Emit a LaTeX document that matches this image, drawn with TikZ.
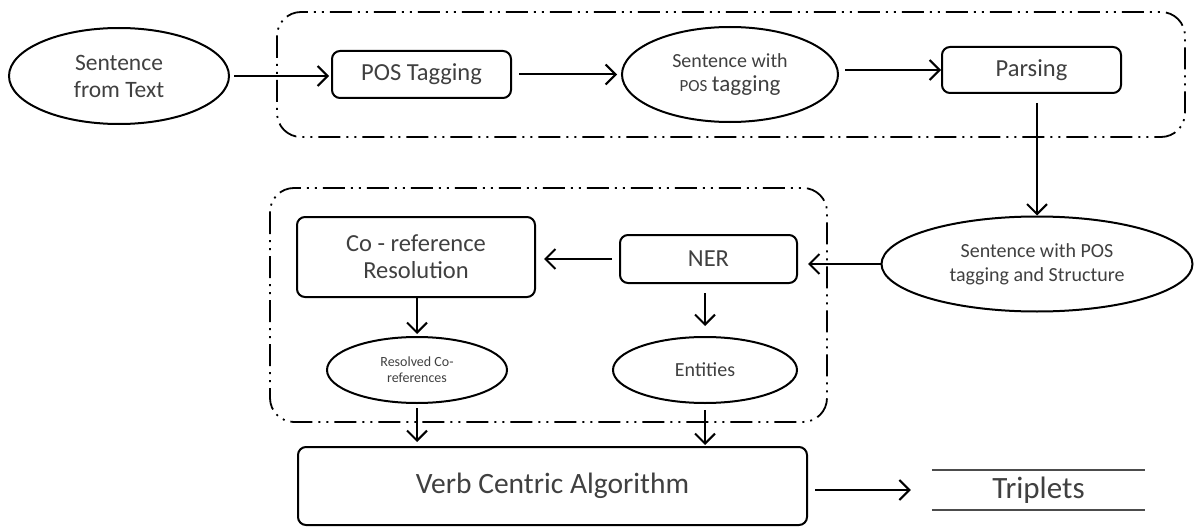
\documentclass[tikz,border=0pt]{standalone}
\usepackage{fontspec}
\setmainfont{Carlito}
\usetikzlibrary{shapes.geometric,arrows.meta}
\begin{document}
\begin{tikzpicture}[x=1pt,y=-1pt,
  every node/.style={text=black!75, align=center, inner sep=0pt},
  box/.style={draw=black, line width=2pt, rounded corners=8pt, rectangle},
  oval/.style={draw=black, line width=2pt, ellipse},
  group/.style={draw=black, line width=1.8pt, rounded corners=24pt,
    dash pattern=on 22pt off 6pt on 2pt off 6pt on 2pt off 6pt},
  flow/.style={draw=black, line width=2pt, -{Straight Barb[length=10pt,width=20pt,line width=2pt]}},
  rule/.style={draw=black!70, line width=1.5pt}]
\useasboundingbox (0,0) rectangle (1195,527);
% groups
\draw[group] (277,12) rectangle (1185,137);
\draw[group] (270,188) rectangle (827,422);
% nodes
\node[oval, minimum width=220pt, minimum height=96pt, font=\fontsize{23.5}{27}\selectfont] (E1) at (119,76) {Sentence\\from Text};
\node[box, minimum width=179pt, minimum height=47pt, font=\fontsize{24.5}{28}\selectfont] (POS) at (421.5,74.5) {POS Tagging};
\node[oval, minimum width=216pt, minimum height=95pt, font=\fontsize{20}{24}\selectfont] (E2) at (730,74.5) {Sentence with\\{\fontsize{17}{20}\selectfont POS} {\fontsize{23}{24}\selectfont tagging}};
\node[box, minimum width=179pt, minimum height=46pt, font=\fontsize{24.5}{28}\selectfont] (Parse) at (1031.5,70) {Parsing};
\node[oval, minimum width=311pt, minimum height=95pt, font=\fontsize{20}{24}\selectfont] (E3) at (1037,264) {Sentence with POS\\tagging and Structure};
\node[box, minimum width=177pt, minimum height=48pt, font=\fontsize{24.5}{28}\selectfont] (NER) at (708.5,259) {NER};
\node[box, minimum width=238pt, minimum height=80pt, font=\fontsize{24.5}{27}\selectfont] (Coref) at (416,257) {Co - reference\\Resolution};
\node[oval, minimum width=180pt, minimum height=66pt, font=\fontsize{14}{16}\selectfont] (Res) at (417,370) {Resolved Co-\\references};
\node[oval, minimum width=184pt, minimum height=66pt, font=\fontsize{20}{24}\selectfont] (Ent) at (705,370) {Entities};
\node[box, minimum width=509pt, minimum height=78pt, font=\fontsize{29.5}{33}\selectfont] (Verb) at (552.5,486) {Verb Centric Algorithm};
\node[minimum width=213pt, minimum height=40pt, font=\fontsize{31}{34}\selectfont] (Trip) at (1038.5,490) {Triplets};
\draw[rule] (Trip.north west) -- (Trip.north east);
\draw[rule] (Trip.south west) -- (Trip.south east);
% connectors
\draw[flow, shorten <=4pt, shorten >=2pt] (E1.east) -- (E1.east -| POS.west);
\draw[flow, shorten <=7pt, shorten >=4pt] (POS.east) -- (POS.east -| E2.west);
\draw[flow, shorten <=6pt] (E2.east |- Parse.west) -- (Parse.west);
\draw[flow, shorten <=9pt] (E3.north |- Parse.south) -- (E3.north);
\draw[flow, shorten >=10pt] (E3.west) -- (E3.west -| NER.east);
\draw[flow, shorten <=7pt, shorten >=8pt] (NER.west) -- (NER.west -| Coref.east);
\draw[flow, shorten >=2pt] (Coref.south -| Res.north) -- (Res.north);
\draw[flow, shorten <=9pt, shorten >=10pt] (NER.south -| Ent.north) -- (Ent.north);
\draw[flow, shorten <=4pt, shorten >=4pt] (Res.south) -- (Res.south |- Verb.north);
\draw[flow, shorten <=6pt, shorten >=1pt] (Ent.south) -- (Ent.south |- Verb.north);
\draw[flow, shorten <=7pt, shorten >=21pt] (Verb.east |- Trip.west) -- (Trip.west);
\end{tikzpicture}
\end{document}
